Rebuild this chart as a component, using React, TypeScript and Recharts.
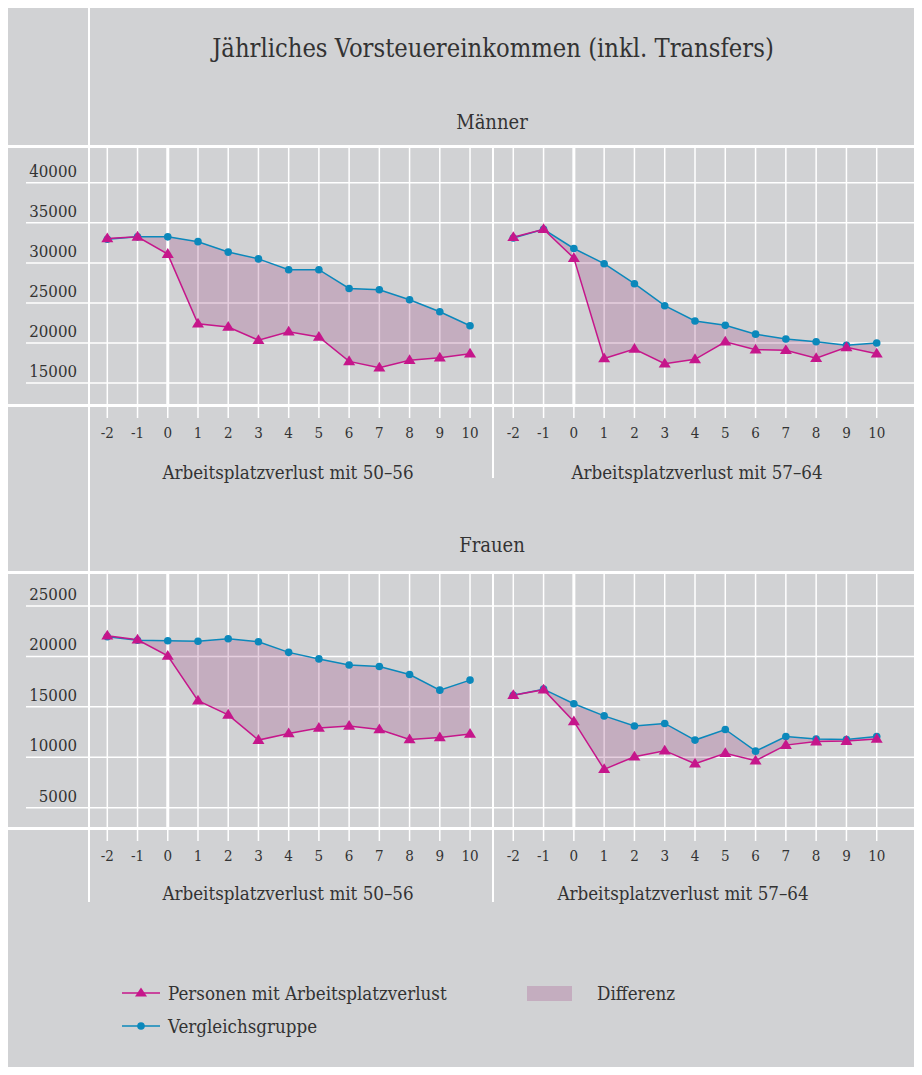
import { Area, CartesianGrid, ComposedChart, Line, ReferenceLine, XAxis, YAxis } from "recharts";

// Jahre relativ zum Arbeitsplatzverlust
const years = [-2, -1, 0, 1, 2, 3, 4, 5, 6, 7, 8, 9, 10];

// Männer
const menEarlyLoss = [33050, 33250, 31100, 22400, 22000, 20350, 21400, 20750, 17700, 16900, 17850, 18150, 18650];
const menEarlyComp = [32950, 33250, 33250, 32650, 31350, 30500, 29150, 29150, 26800, 26650, 25400, 23900, 22150];
const menLateLoss = [33200, 34200, 30600, 18050, 19250, 17400, 17950, 20150, 19150, 19100, 18100, 19450, 18650];
const menLateComp = [33100, 34200, 31800, 29900, 27400, 24650, 22750, 22200, 21100, 20500, 20150, 19700, 20000];

// Frauen
const womenEarlyLoss = [22050, 21650, 20050, 15600, 14200, 11700, 12350, 12900, 13100, 12750, 11750, 11950, 12300];
const womenEarlyComp = [21950, 21600, 21550, 21500, 21750, 21450, 20400, 19750, 19150, 19000, 18200, 16650, 17650];
const womenLateLoss = [16150, 16700, 13550, 8800, 10050, 10650, 9350, 10400, 9650, 11200, 11550, 11600, 11800];
const womenLateComp = [16150, 16750, 15300, 14100, 13100, 13350, 11700, 12750, 10600, 12050, 11800, 11750, 12050];

const menTicks = [15000, 20000, 25000, 30000, 35000, 40000];
const womenTicks = [5000, 10000, 15000, 20000, 25000];

const BG = "#d1d2d4";
const MAGENTA = "#c6168b";
const BLUE = "#0b88bb";
const TEXT = "#333333";
const FONT = '"DejaVu Serif Condensed", "DejaVu Serif", serif';

const Triangle = (props: any) => {
  const { cx, cy, index } = props;
  if (cx == null || cy == null) return <g key={`t${index}`} />;
  return (
    <path
      key={`t${index}`}
      d={`M${cx},${cy - 6} L${cx + 6},${cy + 3.8} L${cx - 6},${cy + 3.8} Z`}
      fill={MAGENTA}
    />
  );
};

const XTick = (props: any) => {
  const { x, y, payload } = props;
  return (
    <text x={x} y={y} dy={18} textAnchor="middle" fill={TEXT} fontSize={15} fontFamily={FONT}>
      {payload.value}
    </text>
  );
};

const YTick = (props: any) => {
  const { y, payload } = props;
  return (
    <text x={51} y={y - 6} textAnchor="end" fill={TEXT} fontSize={16.7} fontFamily={FONT}>
      {payload.value}
    </text>
  );
};

interface PanelProps {
  loss: number[];
  comp: number[];
  ticks: number[];
  yDomain: [number, number];
  xDomain: [number, number];
  width: number;
  plotHeight: number;
  showY: boolean;
}

function Panel({ loss, comp, ticks, yDomain, xDomain, width, plotHeight, showY }: PanelProps) {
  const data = years.map((year, i) => ({
    year,
    loss: loss[i],
    comp: comp[i],
    diff: [loss[i], comp[i]],
  }));
  return (
    <ComposedChart width={width} height={plotHeight + 40} data={data} margin={{ top: 0, right: 0, bottom: 0, left: 0 }}>
      <CartesianGrid stroke="#ffffff" strokeWidth={1.5} horizontalValues={ticks} verticalValues={years} />
      <XAxis
        dataKey="year"
        type="number"
        domain={xDomain}
        ticks={years}
        interval={0}
        allowDataOverflow
        axisLine={false}
        tickLine={{ stroke: "#ffffff", strokeWidth: 1.5 }}
        tickSize={13}
        height={40}
        tick={XTick}
      />
      <YAxis
        type="number"
        domain={yDomain}
        ticks={ticks}
        allowDataOverflow
        hide={!showY}
        mirror
        axisLine={false}
        tickLine={false}
        tick={YTick}
      />
      <ReferenceLine x={0} stroke="#ffffff" strokeWidth={3} />
      <Area dataKey="diff" stroke="none" fill="rgb(160,70,130)" fillOpacity={0.26} isAnimationActive={false} />
      <Line
        dataKey="comp"
        stroke={BLUE}
        strokeWidth={1.5}
        dot={{ r: 3.8, fill: BLUE, stroke: "none" }}
        activeDot={false}
        isAnimationActive={false}
      />
      <Line
        dataKey="loss"
        stroke={MAGENTA}
        strokeWidth={1.5}
        dot={Triangle}
        activeDot={false}
        isAnimationActive={false}
      />
    </ComposedChart>
  );
}

const abs = (left: number, top: number, extra: React.CSSProperties = {}): React.CSSProperties => ({
  position: "absolute",
  left,
  top,
  ...extra,
});

const centered = (left: number, top: number, size: number): React.CSSProperties => ({
  position: "absolute",
  left,
  top,
  transform: "translate(-50%, -50%)",
  whiteSpace: "nowrap",
  fontSize: size,
  color: TEXT,
  fontFamily: FONT,
});

const leftAligned = (left: number, top: number, size: number): React.CSSProperties => ({
  ...centered(left, top, size),
  transform: "translate(0, -50%)",
});

const hLine = (top: number) => abs(0, top, { width: 909, height: 3, background: "#ffffff" });
const vLine = (left: number, top: number, height: number) =>
  abs(left, top, { width: 2, height, background: "#ffffff" });

const menDomain: [number, number] = [12250, 44600];
const womenDomain: [number, number] = [2980, 28370];
const leftX: [number, number] = [-4.69, 10.76];
const rightX: [number, number] = [-2.67, 11.33];

export default function App() {
  return (
    <div style={{ position: "relative", width: 909, height: 1059, background: BG, fontFamily: FONT }}>
      <div style={vLine(80, 0, 894)} />

      <div style={centered(485, 40, 25.3)}>Jährliches Vorsteuereinkommen (inkl. Transfers)</div>
      <div style={centered(484, 114, 20)}>Männer</div>

      <div style={abs(18, 138)}>
        <Panel loss={menEarlyLoss} comp={menEarlyComp} ticks={menTicks} yDomain={menDomain} xDomain={leftX} width={467} plotHeight={259} showY />
      </div>
      <div style={abs(485, 138)}>
        <Panel loss={menLateLoss} comp={menLateComp} ticks={menTicks} yDomain={menDomain} xDomain={rightX} width={424} plotHeight={259} showY={false} />
      </div>
      <div style={hLine(137)} />
      <div style={hLine(396)} />
      <div style={vLine(484, 138, 332)} />
      <div style={centered(280, 464, 18.6)}>Arbeitsplatzverlust mit 50–56</div>
      <div style={centered(689, 464, 18.6)}>Arbeitsplatzverlust mit 57–64</div>

      <div style={centered(484, 537, 20)}>Frauen</div>

      <div style={abs(18, 564)}>
        <Panel loss={womenEarlyLoss} comp={womenEarlyComp} ticks={womenTicks} yDomain={womenDomain} xDomain={leftX} width={467} plotHeight={256} showY />
      </div>
      <div style={abs(485, 564)}>
        <Panel loss={womenLateLoss} comp={womenLateComp} ticks={womenTicks} yDomain={womenDomain} xDomain={rightX} width={424} plotHeight={256} showY={false} />
      </div>
      <div style={hLine(563)} />
      <div style={hLine(819)} />
      <div style={vLine(484, 564, 330)} />
      <div style={centered(280, 885, 18.6)}>Arbeitsplatzverlust mit 50–56</div>
      <div style={centered(675, 885, 18.6)}>Arbeitsplatzverlust mit 57–64</div>

      {/* Legende */}
      <svg style={abs(112, 977)} width={42} height={20}>
        <line x1={2} y1={8} x2={40} y2={8} stroke={MAGENTA} strokeWidth={1.5} />
        <path d="M21,2.5 L27,11.5 L15,11.5 Z" fill={MAGENTA} />
      </svg>
      <div style={leftAligned(160, 985, 18.6)}>Personen mit Arbeitsplatzverlust</div>
      <svg style={abs(112, 1010)} width={42} height={20}>
        <line x1={2} y1={8} x2={40} y2={8} stroke={BLUE} strokeWidth={1.5} />
        <circle cx={21} cy={8} r={3.8} fill={BLUE} />
      </svg>
      <div style={leftAligned(160, 1018, 18.6)}>Vergleichsgruppe</div>
      <div style={abs(519, 978, { width: 45, height: 15, background: "rgb(160,70,130)", opacity: 0.26 })} />
      <div style={leftAligned(589, 985, 18.6)}>Differenz</div>
    </div>
  );
}
